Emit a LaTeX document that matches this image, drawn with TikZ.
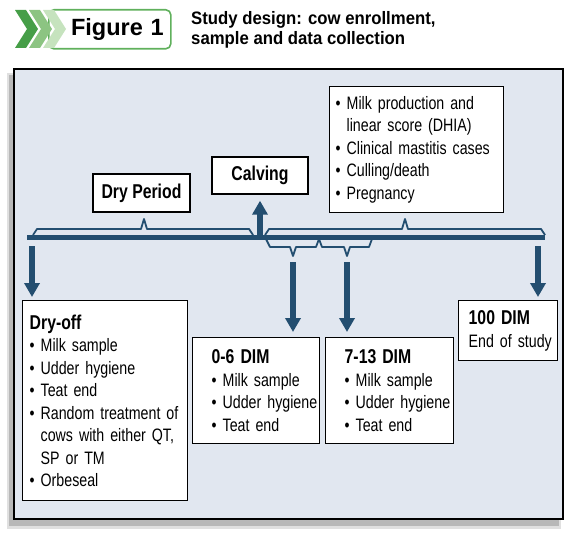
\documentclass[tikz,border=0pt]{standalone}
\usepackage{fontspec}
\setmainfont{Liberation Sans}
\newfontfamily\narrowfont[FakeStretch=0.79]{Liberation Sans}
\newfontfamily\titlefont[FakeStretch=0.93]{Liberation Sans}
\usetikzlibrary{arrows.meta,calc}
\definecolor{timeblue}{RGB}{35,78,112}
\definecolor{panelbg}{RGB}{225,231,240}
\definecolor{greenA}{RGB}{70,158,72}
\definecolor{greenB}{RGB}{140,196,130}
\definecolor{greenC}{RGB}{198,227,190}
\definecolor{greenline}{RGB}{96,176,92}
\newcommand{\titulo}[1]{{\fontsize{20}{22.5}\selectfont\bfseries #1}}
\newcommand{\recuo}{\phantom{\textbullet\ }}

\begin{document}
\begin{tikzpicture}[x=1pt,y=-1pt,
	caixa/.style={draw=black, line width=1.4pt, fill=white, inner ysep=2pt, anchor=north west},
	corpo/.style={font=\narrowfont\fontsize{18}{22.5}\selectfont, align=left,
		execute at begin node={\hyphenpenalty=10000\relax}},
	seta/.style={draw=timeblue, line width=5.5pt, -{Triangle[length=14pt,width=15pt]}},
	chave/.style={draw=timeblue, line width=1.8pt, line join=round}]
	\useasboundingbox (0,0) rectangle (575,540);
	
	% Cabecalho
	\node[draw=greenline, line width=1.6pt, rounded corners=5pt, fill=white, anchor=north west,
		text width=108pt, align=right, inner xsep=7pt, minimum height=39pt,
		font=\bfseries\fontsize{23.5}{26}\selectfont] (figura) at (48,9) {Figure~1};	% Caixa Figure 1
	\fill[greenC] (43,10) -- (54,10) -- (66,29) -- (54,48) -- (43,48) -- (55,29) -- cycle;
	\fill[greenB] (29,10) -- (40,10) -- (52,29) -- (40,48) -- (29,48) -- (41,29) -- cycle;
	\fill[greenA] (15,10) -- (26,10) -- (38,29) -- (26,48) -- (15,48) -- (27,29) -- cycle;
	\node[anchor=north west, inner sep=0pt, align=left,
		font=\titlefont\bfseries\fontsize{18}{20.5}\selectfont] (titulo) at (191,11)
		{Study design: cow enrollment,\\sample and data collection};				% Titulo
	
	% Painel
	\fill[black!12] (7,73) rectangle (561,529);									% Sombra
	\fill[black!28] (9,75) rectangle (559,526);
	\draw[fill=panelbg, line width=1.5pt] (14,69) rectangle (563,519);				% Fundo
	
	% Chaves e linha do tempo
	\draw[chave] (33,235) -- (37,229) -- (141,229) -- (144,219) -- (147,229) -- (249,229) -- (253,235);
	\draw[chave] (265,235) -- (269,229) -- (402,229) -- (405,219) -- (408,229) -- (541,229) -- (545,235);
	\draw[chave] (266,239) -- (270,247) -- (290,247) -- (293,256) -- (296,247) -- (316,247) -- (319,239)
		-- (322,247) -- (344,247) -- (347,256) -- (350,247) -- (369,247) -- (372,239);
	\draw[timeblue, line width=5pt] (27,237) -- (545,237);						% Linha do tempo
	
	% Caixas
	\node[caixa, minimum width=97pt, minimum height=38pt, anchor=center,
		font=\narrowfont\bfseries\fontsize{20}{22}\selectfont] (secagem) at (141.5,193) {Dry Period};
	\node[caixa, minimum width=96pt, minimum height=37pt, anchor=center,
		font=\narrowfont\bfseries\fontsize{20}{22}\selectfont] (parto) at (260,175.5) {Calving};
	\node[caixa, corpo, minimum height=126pt, inner xsep=6pt, text width=162pt] (registros) at (329,86)
		{\textbullet~Milk~production~and\\
		 \recuo linear~score~(DHIA)\\
		 \textbullet~Clinical~mastitis~cases\\
		 \textbullet~Culling/death\\
		 \textbullet~Pregnancy};
	\node[caixa, corpo, minimum height=200pt, inner xsep=7pt, text width=151pt] (dryoff) at (22,300)
		{\titulo{Dry-off}\\
		 \textbullet~Milk~sample\\
		 \textbullet~Udder~hygiene\\
		 \textbullet~Teat~end\\
		 \textbullet~Random~treatment~of\\
		 \recuo cows~with~either~QT,\\
		 \recuo SP~or~TM\\
		 \textbullet~Orbeseal};
	\node[caixa, corpo, minimum height=106pt, inner xsep=19pt, text width=89pt] (dim06) at (192,337)
		{\titulo{0-6~DIM}\\
		 \textbullet~Milk~sample\\
		 \textbullet~Udder~hygiene\\
		 \textbullet~Teat~end};
	\node[caixa, corpo, minimum height=106pt, inner xsep=19pt, text width=90pt] (dim713) at (325,337)
		{\titulo{7-13~DIM}\\
		 \textbullet~Milk~sample\\
		 \textbullet~Udder~hygiene\\
		 \textbullet~Teat~end};
	\node[caixa, corpo, minimum height=60pt, inner xsep=10pt, text width=79pt] (dim100) at (458,300)
		{\titulo{100~DIM}\\
		 End~of~study};
	
	% Setas
	\coordinate (p0) at (32,246);
	\coordinate (p1) at (260,235);
	\coordinate (p2) at (293,262);
	\coordinate (p3) at (347,262);
	\coordinate (p4) at (538,246);
	\draw[seta, shorten >=3pt] (p0) -- (p0 |- dryoff.north);
	\draw[seta, shorten >=6pt] (p1) -- (p1 |- parto.south);
	\draw[seta, shorten >=5pt] (p2) -- (p2 |- dim06.north);
	\draw[seta, shorten >=5pt] (p3) -- (p3 |- dim713.north);
	\draw[seta, shorten >=3pt] (p4) -- (p4 |- dim100.north);
\end{tikzpicture}
\end{document}
